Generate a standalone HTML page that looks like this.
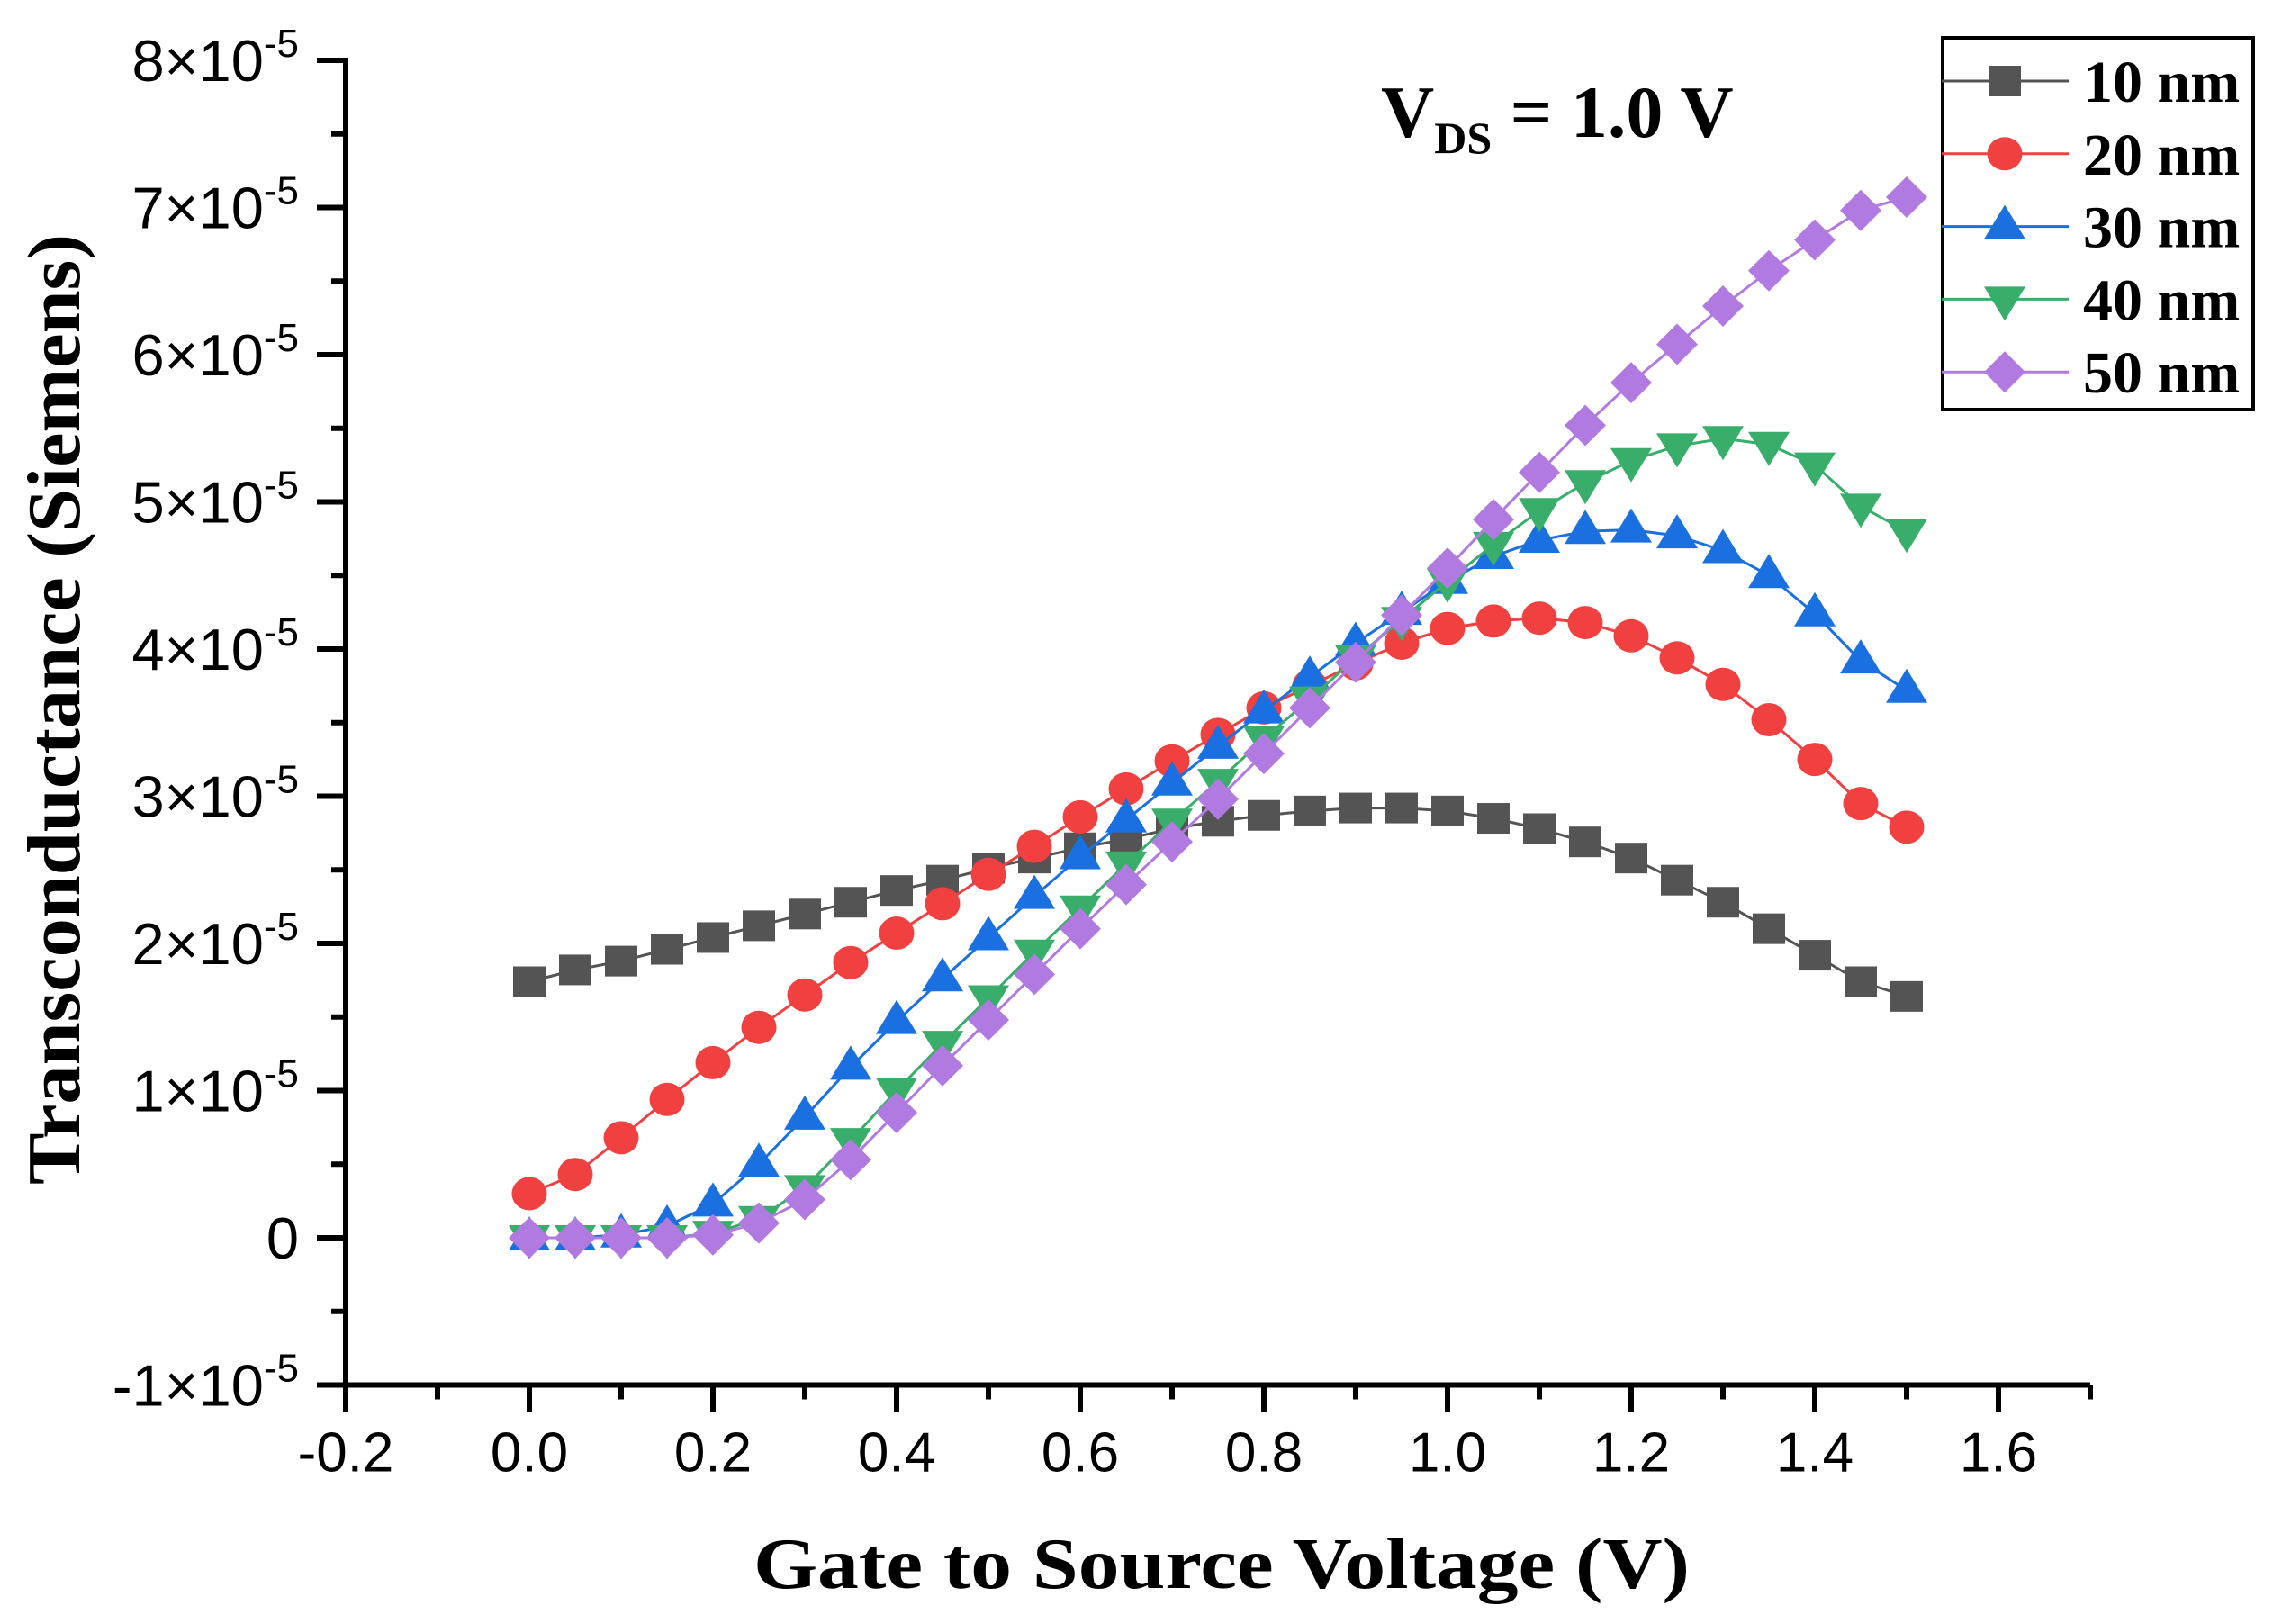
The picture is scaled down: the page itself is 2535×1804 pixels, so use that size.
<!DOCTYPE html>
<html><head><meta charset="utf-8"><style>
html,body{margin:0;padding:0;background:#fff;}
svg{display:block;}
</style></head><body>
<svg id="chart" width="2535" height="1804" viewBox="0 0 2535 1804" xmlns="http://www.w3.org/2000/svg">
<g id="plot"></g>
<g id="axes"></g>
<text x="1357" y="1764" text-anchor="middle" font-family="Liberation Serif, serif" font-weight="bold" font-size="80" textLength="1040" lengthAdjust="spacingAndGlyphs">Gate to  Source Voltage (V)</text>
<text transform="translate(88,788) rotate(-90)" text-anchor="middle" font-family="Liberation Serif, serif" font-weight="bold" font-size="84" textLength="1056" lengthAdjust="spacingAndGlyphs">Transconductance (Siemens)</text>
<text x="1534" y="152" font-family="Liberation Serif, serif" font-weight="bold" font-size="82">V<tspan font-size="50" dy="18">DS</tspan><tspan dy="-18"> = 1.0 V</tspan></text>
<g id="legend"></g>
</svg>
<script>
const xValues=[0,0.05,0.1,0.15,0.2,0.25,0.3,0.35,0.4,0.45,0.5,0.55,0.6,0.65,0.7,0.75,0.8,0.85,0.9,0.95,1.0,1.05,1.1,1.15,1.2,1.25,1.3,1.35,1.4,1.45,1.5];
const seriesNames=["10 nm","20 nm","30 nm","40 nm","50 nm"];
const s10=[1.74,1.82,1.88,1.96,2.04,2.12,2.2,2.28,2.36,2.43,2.51,2.58,2.65,2.71,2.78,2.83,2.87,2.9,2.92,2.92,2.9,2.85,2.78,2.69,2.58,2.43,2.28,2.1,1.92,1.74,1.64];
const s20=[0.30,0.43,0.68,0.94,1.19,1.43,1.65,1.87,2.07,2.27,2.47,2.66,2.86,3.05,3.24,3.42,3.6,3.75,3.9,4.04,4.14,4.19,4.21,4.18,4.09,3.94,3.76,3.52,3.25,2.95,2.79];
const s30=[0,0,0.02,0.08,0.23,0.5,0.82,1.16,1.47,1.76,2.04,2.32,2.59,2.84,3.09,3.34,3.58,3.81,4.04,4.25,4.46,4.63,4.74,4.8,4.81,4.77,4.67,4.5,4.24,3.92,3.72];
const s40=[0,0,0,0,0.03,0.13,0.34,0.66,1.0,1.32,1.63,1.94,2.24,2.54,2.83,3.1,3.39,3.66,3.94,4.2,4.46,4.71,4.94,5.13,5.28,5.38,5.43,5.39,5.25,4.97,4.8];
const s50=[0,0,0,0,0.02,0.1,0.26,0.53,0.85,1.17,1.48,1.79,2.1,2.4,2.69,2.98,3.29,3.6,3.91,4.23,4.55,4.88,5.2,5.52,5.81,6.07,6.33,6.57,6.78,6.98,7.07];
const xTickLabels=["-0.2","0.0","0.2","0.4","0.6","0.8","1.0","1.2","1.4","1.6"];
const yTickValues=[-1,0,1,2,3,4,5,6,7,8];

const NS="http://www.w3.org/2000/svg";
const X0=384, XS=1020;
const Y0=1375, YS=163.5;
const xMin=-0.2, xMax=1.7, yMin=-1, yMax=8;
function xp(v){return X0+(v-xMin)*XS;}
function yp(v){return Y0-v*YS;}
function mk(tag,attrs,parent){const e=document.createElementNS(NS,tag);for(const k in attrs)e.setAttribute(k,attrs[k]);parent.appendChild(e);return e;}
const colors=["#545454","#f04040","#1a70e0","#38ae6a","#b07ae0"];
const shapes=["square","circle","up","down","diamond"];
const allSeries=[s10,s20,s30,s40,s50];
function marker(shape,cx,cy,color,parent){
  let e;
  if(shape==="square") e=mk('rect',{x:cx-18,y:cy-17,width:36,height:34,fill:color},parent);
  else if(shape==="circle") e=mk('ellipse',{cx:cx,cy:cy,rx:19.5,ry:18.5,fill:color},parent);
  else if(shape==="up") e=mk('polygon',{points:`${cx},${cy-24} ${cx-23},${cy+14} ${cx+23},${cy+14}`,fill:color},parent);
  else if(shape==="down") e=mk('polygon',{points:`${cx},${cy+24} ${cx-23},${cy-14} ${cx+23},${cy-14}`,fill:color},parent);
  else e=mk('polygon',{points:`${cx},${cy-23} ${cx+23},${cy} ${cx},${cy+23} ${cx-23},${cy}`,fill:color},parent);
  return e;
}
const plot=document.getElementById('plot');
allSeries.forEach((s,i)=>{
  const g=mk('g',{},plot);
  
  
  const pts=s.map((v,j)=>xp(xValues[j])+','+yp(v)).join(' ');
  const line=mk('polyline',{points:pts,fill:'none',stroke:colors[i],'stroke-width':3},g);
  
  
  s.forEach((v,j)=>{
    const m=marker(shapes[i],xp(xValues[j]),yp(v),colors[i],g);
    
    
  });
});
const ax=document.getElementById('axes');
const yl=mk('line',{x1:xp(xMin),y1:yp(yMax)-3,x2:xp(xMin),y2:yp(yMin)+3,stroke:'#000','stroke-width':6},ax);


const xl=mk('line',{x1:xp(xMin)-3,y1:yp(yMin),x2:xp(xMax),y2:yp(yMin),stroke:'#000','stroke-width':6},ax);


yTickValues.forEach(v=>{
  const y=yp(v);
  const t=mk('line',{x1:xp(xMin)-32,y1:y,x2:xp(xMin),y2:y,stroke:'#000','stroke-width':6},ax);
  
  
  if(v<yMax){const m=mk('line',{x1:xp(xMin)-16,y1:y-YS/2,x2:xp(xMin),y2:y-YS/2,stroke:'#000','stroke-width':6},ax);
    
    }
  const tx=mk('text',{x:xp(xMin)-52,y:y+23,'text-anchor':'end','font-family':'Liberation Sans, sans-serif','font-size':65},ax);
  
  
  if(v===0){tx.textContent='0';}
  else{tx.textContent=v+'\u00d710';const sp=document.createElementNS(NS,'tspan');sp.setAttribute('font-size','44');sp.setAttribute('dy','-27');sp.textContent='-5';tx.appendChild(sp);}
});
xTickLabels.forEach((lab,i)=>{
  const v=parseFloat(lab);const x=xp(v);
  const t=mk('line',{x1:x,y1:yp(yMin),x2:x,y2:yp(yMin)+30,stroke:'#000','stroke-width':6},ax);
  
  
  const m=mk('line',{x1:x+XS*0.1,y1:yp(yMin),x2:x+XS*0.1,y2:yp(yMin)+16,stroke:'#000','stroke-width':6},ax);
  
  
  const tx=mk('text',{x:x,y:yp(yMin)+96,'text-anchor':'middle','font-family':'Liberation Sans, sans-serif','font-size':62},ax);
  
  
  tx.textContent=lab;
});
const lg=document.getElementById('legend');
const box=mk('rect',{x:2158,y:42,width:345,height:413,fill:'#fff',stroke:'#000','stroke-width':4},lg);


seriesNames.forEach((n,i)=>{
  const y=90+i*80.8;
  const g=mk('g',{},lg);
  
  
  mk('line',{x1:2157,y1:y,x2:2298,y2:y,stroke:colors[i],'stroke-width':3},g);
  marker(shapes[i],2227,y,colors[i],g);
  const t=mk('text',{x:2314,y:y+23,'font-family':'Liberation Serif, serif','font-weight':'bold','font-size':66},g);
  t.textContent=n;
});
</script>
</body></html>
